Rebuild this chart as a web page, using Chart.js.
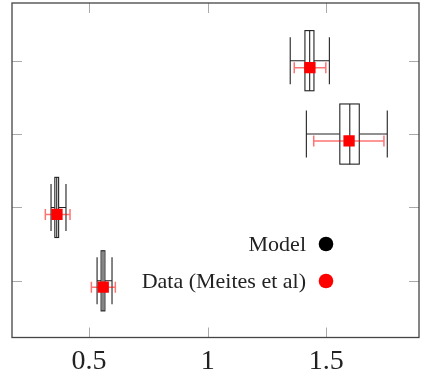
<!DOCTYPE html>
<html><head><meta charset="utf-8">
<script src="https://cdn.jsdelivr.net/npm/chart.js@4/dist/chart.umd.min.js"></script>
<style>html,body{margin:0;padding:0;background:#fff}#wrap{width:424px;height:372px;position:relative}</style>
</head><body><div id="wrap"><canvas id="c"></canvas></div>
<script>
// ---- data ----
const modelY      = [4, 3, 2, 1];
const modelMedian = [1.430, 1.599, 0.364, 0.559];
const modelQ1     = [1.410, 1.557, 0.356, 0.551];
const modelQ3     = [1.448, 1.639, 0.372, 0.567];
const modelLow    = [1.348, 1.416, 0.340, 0.534];
const modelHigh   = [1.513, 1.757, 0.403, 0.597];
const dataX       = [1.431, 1.596, 0.365, 0.560];
const dataY       = [3.905, 2.907, 1.905, 0.914];
const dataErrLow  = [1.365, 1.447, 0.316, 0.510];
const dataErrHigh = [1.498, 1.743, 0.420, 0.611];
const xTicks = [0.5, 1, 1.5];
const xTickLabels = ['0.5', '1', '1.5'];
const yTicks = [1, 2, 3, 4];
const legendLabels = ['Model', 'Data (Meites et al)'];
const legendColors = ['#000000', '#ff0000'];

const BOX_EXT = 0.82, WHISK_EXT = 0.64;
const FONT = '"Liberation Serif", "Times New Roman", serif';

const overlay = {
  id: 'overlay',
  beforeDatasetsDraw(chart) {
    const ctx = chart.ctx, xs = chart.scales.x, ys = chart.scales.y;
    ctx.save();
    // model box plots (horizontal)
    for (let i = 0; i < modelY.length; i++) {
      const yc = ys.getPixelForValue(modelY[i]);
      const yb0 = ys.getPixelForValue(modelY[i] + BOX_EXT / 2);
      const yb1 = ys.getPixelForValue(modelY[i] - BOX_EXT / 2);
      const yw0 = ys.getPixelForValue(modelY[i] + WHISK_EXT / 2);
      const yw1 = ys.getPixelForValue(modelY[i] - WHISK_EXT / 2);
      const xl = xs.getPixelForValue(modelLow[i]);
      const xh = xs.getPixelForValue(modelHigh[i]);
      const x1 = xs.getPixelForValue(modelQ1[i]);
      const x3 = xs.getPixelForValue(modelQ3[i]);
      const xm = xs.getPixelForValue(modelMedian[i]);
      ctx.strokeStyle = '#222';
      ctx.lineWidth = 1.1;
      ctx.beginPath();
      ctx.moveTo(xl, yc); ctx.lineTo(x1, yc);
      ctx.moveTo(x3, yc); ctx.lineTo(xh, yc);
      ctx.moveTo(xl, yw0); ctx.lineTo(xl, yw1);
      ctx.moveTo(xh, yw0); ctx.lineTo(xh, yw1);
      ctx.stroke();
      ctx.fillStyle = '#fff';
      ctx.fillRect(x1, yb0, x3 - x1, yb1 - yb0);
      ctx.strokeRect(x1, yb0, x3 - x1, yb1 - yb0);
      ctx.beginPath();
      ctx.moveTo(xm, yb0); ctx.lineTo(xm, yb1);
      ctx.stroke();
    }
    // data error bars
    ctx.strokeStyle = 'rgba(255,0,0,0.55)';
    ctx.lineWidth = 1.5;
    for (let i = 0; i < dataX.length; i++) {
      const y = ys.getPixelForValue(dataY[i]);
      const a = xs.getPixelForValue(dataErrLow[i]);
      const b = xs.getPixelForValue(dataErrHigh[i]);
      ctx.beginPath();
      ctx.moveTo(a, y); ctx.lineTo(b, y);
      ctx.moveTo(a, y - 5.5); ctx.lineTo(a, y + 5.5);
      ctx.moveTo(b, y - 5.5); ctx.lineTo(b, y + 5.5);
      ctx.stroke();
    }
    ctx.restore();
  },
  afterDraw(chart) {
    const ctx = chart.ctx, xs = chart.scales.x, ys = chart.scales.y;
    const a = chart.chartArea;
    ctx.save();
    // ticks (inward, all sides)
    ctx.strokeStyle = '#aaa';
    ctx.lineWidth = 1;
    ctx.beginPath();
    xTicks.forEach(v => {
      const x = Math.round(xs.getPixelForValue(v)) + 0.5;
      ctx.moveTo(x, a.bottom); ctx.lineTo(x, a.bottom - 10);
      ctx.moveTo(x, a.top); ctx.lineTo(x, a.top + 10);
    });
    yTicks.forEach(v => {
      const y = Math.round(ys.getPixelForValue(v)) + 0.5;
      ctx.moveTo(a.left, y); ctx.lineTo(a.left + 10, y);
      ctx.moveTo(a.right, y); ctx.lineTo(a.right - 10, y);
    });
    ctx.stroke();
    // frame
    ctx.strokeStyle = '#444';
    ctx.lineWidth = 1.3;
    ctx.strokeRect(a.left, a.top, a.right - a.left, a.bottom - a.top);
    // x tick labels
    ctx.fillStyle = '#222';
    ctx.font = '28px ' + FONT;
    ctx.textAlign = 'center';
    ctx.textBaseline = 'alphabetic';
    xTicks.forEach((v, i) => {
      ctx.fillText(xTickLabels[i], xs.getPixelForValue(v), 369);
    });
    // legend
    ctx.font = '22px ' + FONT;
    ctx.textAlign = 'right';
    ctx.textBaseline = 'middle';
    const rows = [244, 281];
    legendLabels.forEach((t, i) => {
      ctx.fillStyle = '#222';
      ctx.fillText(t, 306, rows[i] + 1);
      ctx.fillStyle = legendColors[i];
      ctx.beginPath();
      ctx.arc(326, rows[i], 7.3, 0, Math.PI * 2);
      ctx.fill();
    });
    ctx.restore();
  }
};

new Chart(document.getElementById('c'), {
  type: 'scatter',
  data: {
    datasets: [{
      label: legendLabels[1],
      data: dataX.map((x, i) => ({x: x, y: dataY[i]})),
      backgroundColor: '#ff0000',
      borderWidth: 0,
      pointStyle: 'rect',
      pointRadius: 8,
      pointHoverRadius: 8
    }]
  },
  options: {
    responsive: true,
    maintainAspectRatio: false,
    devicePixelRatio: 1,
    animation: false,
    layout: {autoPadding: false, padding: {left: 12, right: 5, top: 3, bottom: 34.5}},
    scales: {
      x: {type: 'linear', min: 0.1755, max: 1.8907, display: false},
      y: {type: 'linear', min: 0.2275, max: 4.786, display: false}
    },
    plugins: {legend: {display: false}, tooltip: {enabled: false}}
  },
  plugins: [overlay]
});
</script>
</body></html>
